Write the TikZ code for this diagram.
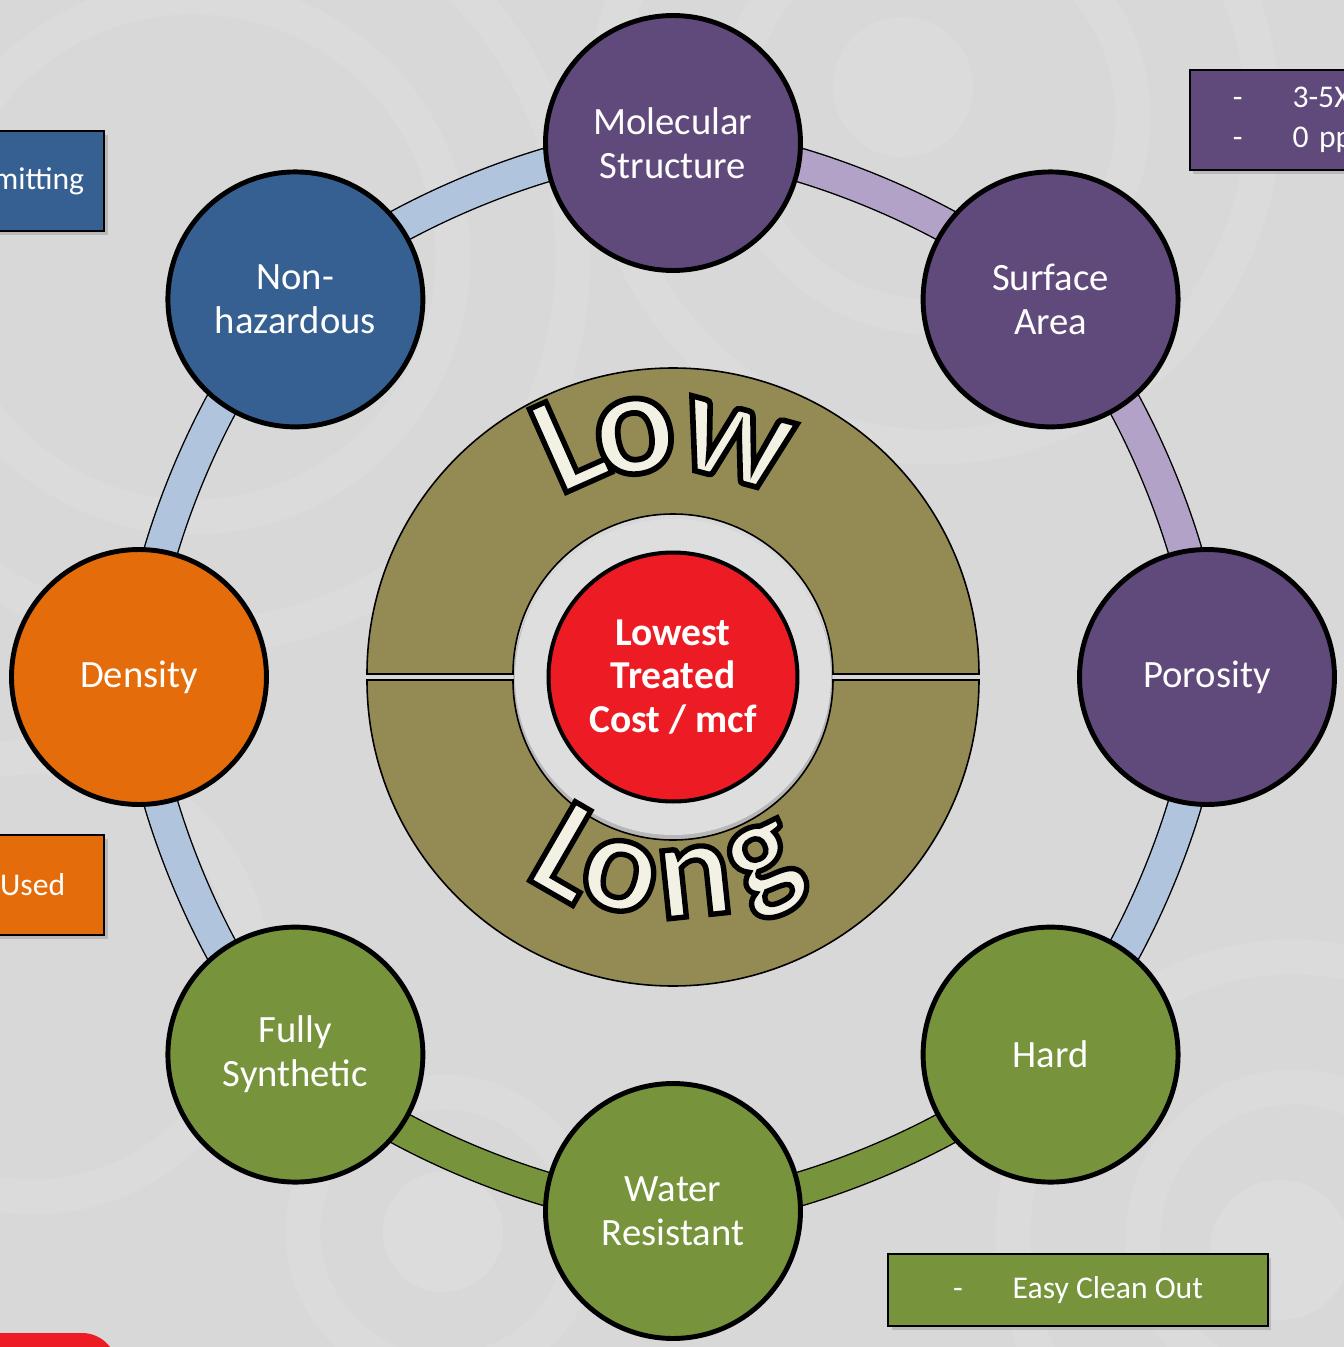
\documentclass[tikz,border=0pt]{standalone}
\usepackage{fontspec}
\setmainfont{Carlito}
\newfontface\wordoutline{Carlito Bold}[FakeBold=3.8]
\usetikzlibrary{calc,shadows}

\definecolor{plum}{HTML}{604A7B}
\definecolor{steel}{HTML}{366092}
\definecolor{amber}{HTML}{E46C0A}
\definecolor{leaf}{HTML}{77933C}
\definecolor{discolive}{HTML}{948A54}
\definecolor{signal}{HTML}{ED1C24}
\definecolor{lilac}{HTML}{B3A2C7}
\definecolor{sky}{HTML}{B0C4DE}
\definecolor{cream}{HTML}{F3F1E4}
\definecolor{bggray}{HTML}{D8D8D8}
\definecolor{hubgray}{HTML}{DEDEDE}

\pgfdeclarelayer{bg}
\pgfdeclarelayer{bands}
\pgfsetlayers{bg,bands,main}

% one letter of the curved words: [size], angle, radius, rotation, letter, name
% (cream fill, black stroke of the emboldened glyph)
\newcommand{\arcletter}[6][80]{%
  \node[wordfill, rotate=#4, font=\wordoutline\fontsize{#1}{#1}\selectfont] (#6) at (#2:#3)
    {\special{pdf:literal direct 0 0 0 RG}#5};}

\begin{document}
\begin{tikzpicture}[x=0.02cm, y=0.02cm,
  factor/.style={circle, draw=black, line width=2.8pt, minimum size=5.1cm, inner sep=0pt,
    align=center, text=white, font=\fontsize{22}{25}\selectfont},
  band/.style={draw=black, line width=0.8pt, double=#1, double distance=0.64cm},
  sidebox/.style={rectangle, draw=black, line width=1pt, text=white,
    font=\fontsize{18}{22.5}\selectfont, minimum height=2cm,
    drop shadow={shadow xshift=2pt, shadow yshift=-2pt, opacity=0.35}},
  half/.style={fill=discolive, draw=black, line width=0.9pt},
  wordfill/.style={anchor=base, inner sep=0pt, text=cream},
]
\useasboundingbox (-673,-670) rectangle (671,677);

% background with faint swirls
\begin{pgfonlayer}{bg}
  \fill[bggray] (-673,-670) rectangle (671,677);
  \foreach \cx/\cy/\r in {-480/420/260, -480/420/380, 260/560/200, 260/560/330,
      620/-560/150, 620/-560/280, -230/-555/140, -640/-300/220}
    \draw[white, opacity=0.08, line width=0.7cm] (\cx,\cy) circle[radius=\r];
  \fill[white, opacity=0.12] (-230,-555) circle[radius=60];
  \fill[white, opacity=0.12] (607,-573) circle[radius=70];
  \fill[white, opacity=0.1] (230,590) circle[radius=70];
\end{pgfonlayer}

% hub
\fill[black, opacity=0.15] (0,-4) circle[radius=160];
\fill[hubgray] (0,0) circle[radius=158];
\draw[half] (306,3) arc[start angle=0, end angle=180, radius=306]
  -- (-160,3) arc[start angle=180, end angle=0, radius=160] -- cycle;
\draw[half] (306,-3) arc[start angle=0, end angle=-180, radius=306]
  -- (-160,-3) arc[start angle=-180, end angle=0, radius=160] -- cycle;
\node[circle, fill=signal, draw=black, line width=2.3pt, minimum size=4.98cm, inner sep=0pt,
  align=center, text=white, font=\bfseries\fontsize{22.5}{25}\selectfont] (cost) at (0,0)
  {Lowest\\Treated\\Cost / mcf};

% curved words
\arcletter{114}{212}{24}{L}{low-l}
\arcletter[86]{99}{207}{9}{o}{low-o}
\arcletter[84]{75}{205}{-15}{w}{low-w}
\arcletter{240}{248}{-30}{L}{long-l}
\arcletter{255}{240}{-15}{o}{long-o}
\arcletter{276}{240}{6}{n}{long-n}
\arcletter{296}{238}{26}{g}{long-g}

% ring of factors
\node[factor, fill=plum] (mol) at (90:534) {Molecular\\Structure};
\node[factor, fill=plum] (surf) at (45:534) {Surface\\Area};
\node[factor, fill=plum] (poro) at (0:534) {Porosity};
\node[factor, fill=leaf] (hard) at (-45:534) {Hard};
\node[factor, fill=leaf] (water) at (-90:534) {Water\\Resistant};
\node[factor, fill=leaf] (synth) at (-135:534) {Fully\\Synthetic};
\node[factor, fill=amber] (dens) at (180:534) {Density};
\node[factor, fill=steel] (nonhaz) at (135:534) {Non-\\hazardous};

\begin{pgfonlayer}{bands}
  \foreach \a/\b/\c in {poro/surf/lilac, surf/mol/lilac, mol/nonhaz/sky, nonhaz/dens/sky,
      dens/synth/sky, synth/water/leaf, water/hard/leaf, hard/poro/sky}
    \draw[band=\c] (\a.center) to[bend right=22.5, looseness=0.7] (\b.center);
\end{pgfonlayer}

% side notes
\node[sidebox, fill=steel, anchor=east, text width=4cm, align=right, inner xsep=0.4cm] (permit)
  at (-568,496) {mitting};
\node[sidebox, fill=amber, anchor=east, text width=4cm, align=right, inner xsep=0.78cm] (used)
  at (-568,-208) {Used};
\node[sidebox, fill=plum, anchor=west, text width=5cm, align=left, inner xsep=0.86cm] (spec)
  at (516,557) {-\hspace{1cm}3-5X\\-\hspace{1cm}0 pp};
\node[sidebox, fill=leaf, minimum width=7.6cm, minimum height=1.44cm] (clean)
  at (405,-613) {-\hspace{1cm}Easy Clean Out};
\fill[signal, rounded corners=0.7cm] (-720,-720) rectangle (-556,-656);
\end{tikzpicture}
\end{document}
